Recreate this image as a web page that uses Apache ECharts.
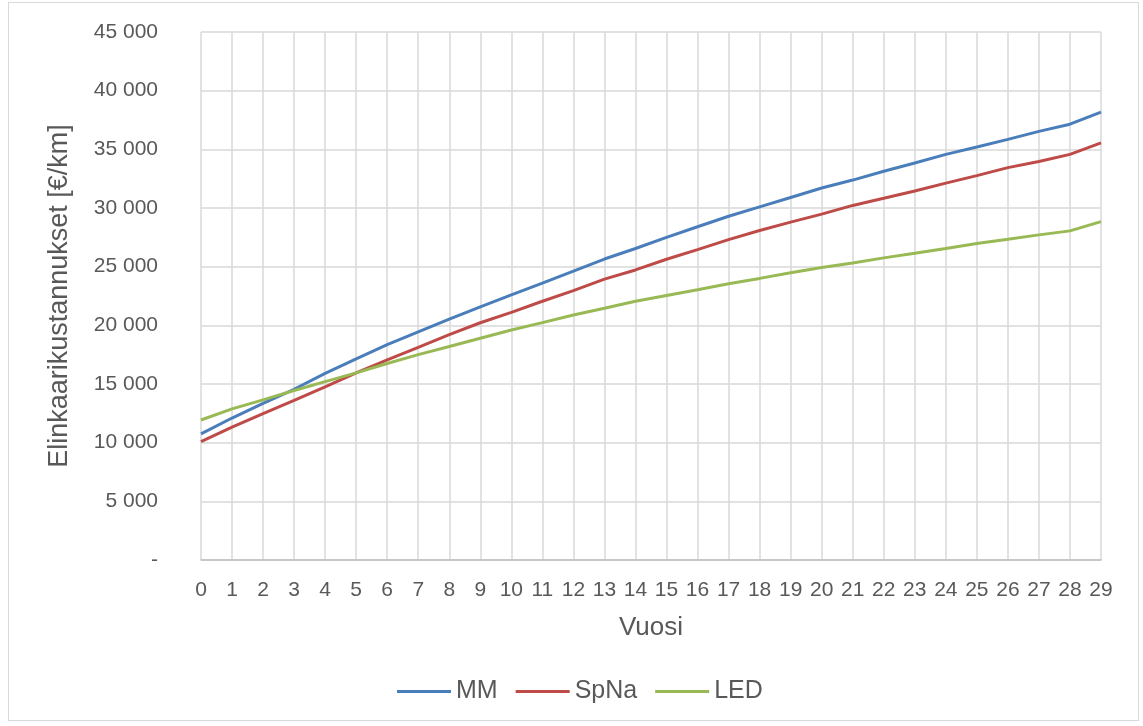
<!DOCTYPE html>
<html>
<head>
<meta charset="utf-8">
<script src="https://cdn.jsdelivr.net/npm/echarts@6/dist/echarts.min.js"></script>
<style>
html,body{margin:0;padding:0;background:#fff;}
#wrap{position:absolute;left:8px;top:2px;width:1131px;height:719px;border:1px solid #d9d9d9;box-sizing:border-box;}
#chart{position:absolute;left:0;top:0;width:1143px;height:726px;}
</style>
</head>
<body>
<div id="wrap"></div>
<div id="chart"></div>
<script>
const years = ['0','1','2','3','4','5','6','7','8','9','10','11','12','13','14','15','16','17','18','19','20','21','22','23','24','25','26','27','28','29'];
const mm   = [10750,12100,13350,14550,15900,17150,18350,19450,20520,21580,22600,23600,24620,25650,26550,27500,28400,29300,30100,30900,31700,32380,33130,33830,34570,35200,35850,36530,37140,38180];
const spna = [10080,11320,12480,13600,14750,15950,17050,18130,19200,20220,21110,22050,22960,23940,24720,25630,26450,27300,28080,28800,29480,30220,30830,31450,32120,32760,33440,33960,34570,35550];
const led  = [11930,12880,13650,14450,15200,15950,16750,17500,18200,18900,19600,20230,20880,21460,22050,22540,23030,23550,24000,24490,24920,25320,25750,26150,26550,26980,27340,27710,28050,28840];
const seriesNames = ['MM','SpNa','LED'];
const yTicks = {min:0, max:45000, interval:5000};

const chart = echarts.init(document.getElementById('chart'));
const txt = '#595959';
const font = 'Liberation Sans, Arial, sans-serif';
function fmt(v){ if(v===0) return '-'; return String(v).replace(/\B(?=(\d{3})+(?!\d))/g,' '); }
chart.setOption({
  animation:false,
  color:['#4a7ebb','#be4b48','#98b954'],
  textStyle:{fontFamily:font},
  grid:{left:201,right:42,top:32,bottom:166,containLabel:false},
  legend:{
    bottom:17,left:392,itemWidth:54,itemHeight:3,itemGap:18,
    icon:'rect',
    textStyle:{color:txt,fontSize:25,fontFamily:font},
    data:seriesNames
  },
  xAxis:{
    type:'category',data:years,boundaryGap:false,
    name:'Vuosi',nameLocation:'middle',nameGap:55,
    nameTextStyle:{color:txt,fontSize:26,fontFamily:font},
    axisLine:{lineStyle:{color:'#bfbfbf',width:1.5}},
    axisTick:{show:false},
    axisLabel:{color:txt,fontSize:21,interval:0,margin:20,fontFamily:font},
    splitLine:{show:true,interval:0,lineStyle:{color:'#d9d9d9',width:1.5}}
  },
  yAxis:{
    type:'value',min:yTicks.min,max:yTicks.max,interval:yTicks.interval,
    name:'Elinkaarikustannukset [€/km]',nameLocation:'middle',nameGap:128,
    nameTextStyle:{color:txt,fontSize:27,fontFamily:font},
    axisLine:{show:false},axisTick:{show:false},
    axisLabel:{color:txt,fontSize:21,margin:43,formatter:fmt,fontFamily:font},
    splitLine:{lineStyle:{color:'#d9d9d9',width:1.5}}
  },
  series:[
    {name:'MM',type:'line',data:mm,symbol:'none',lineStyle:{width:3}},
    {name:'SpNa',type:'line',data:spna,symbol:'none',lineStyle:{width:3}},
    {name:'LED',type:'line',data:led,symbol:'none',lineStyle:{width:3}}
  ]
});
</script>
</body>
</html>
